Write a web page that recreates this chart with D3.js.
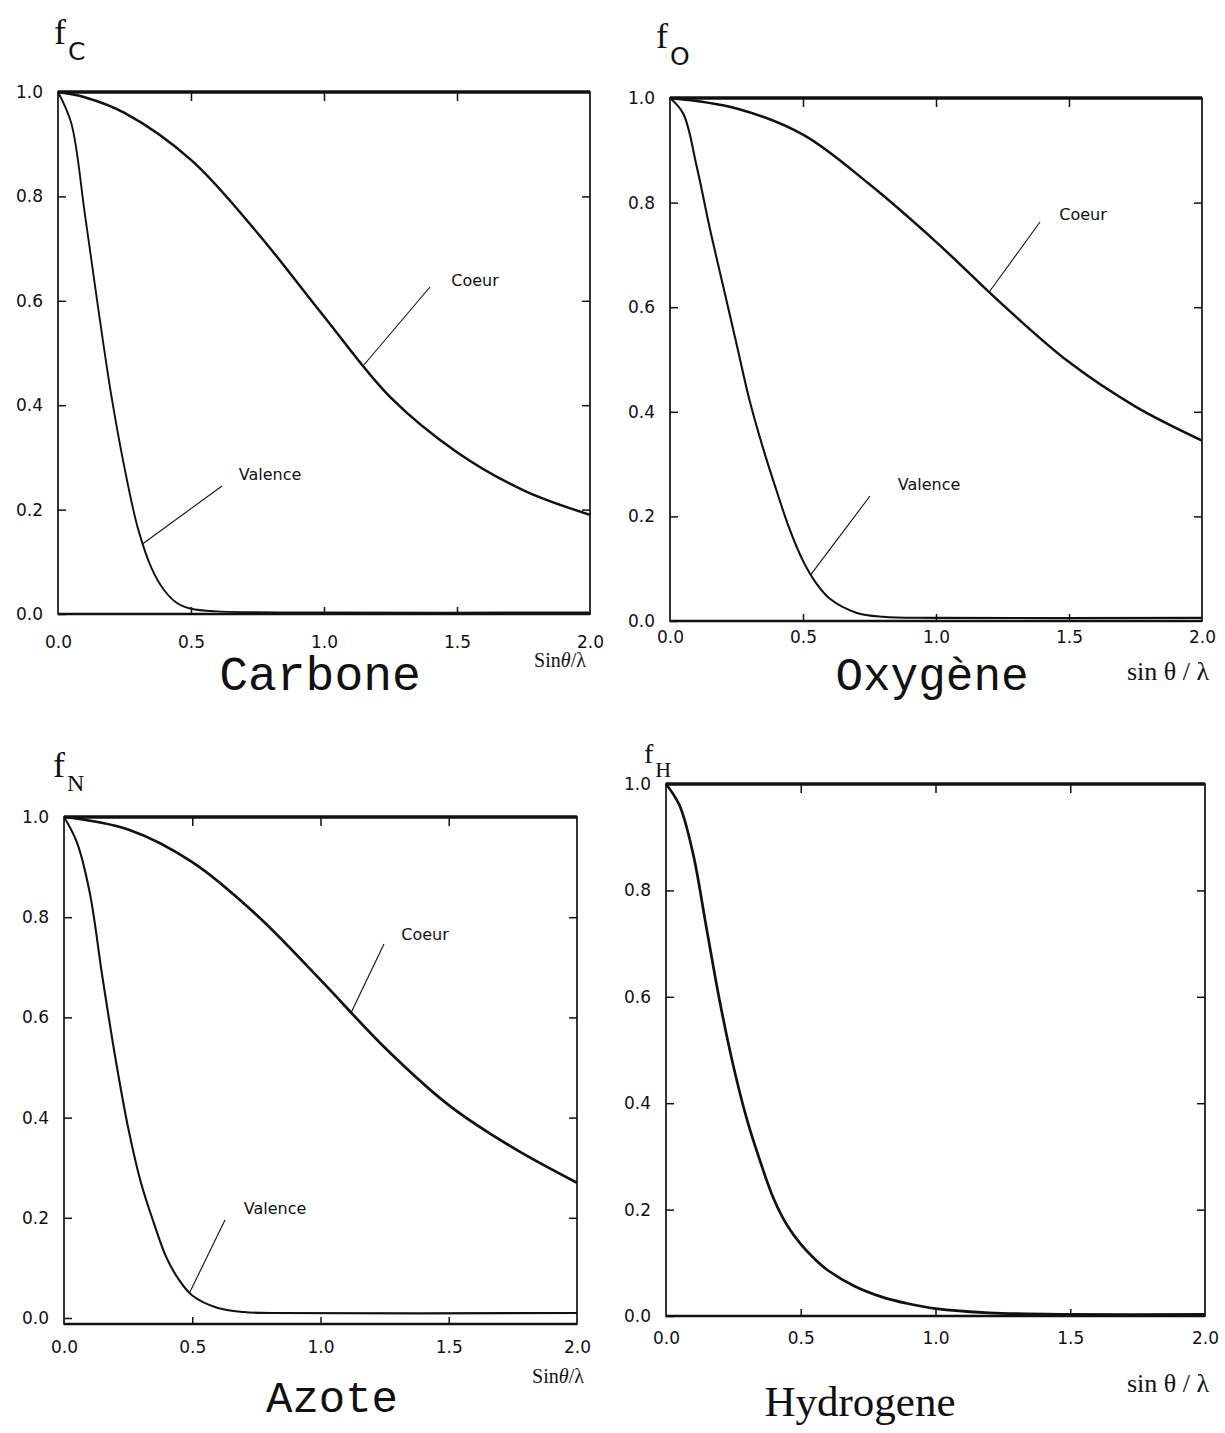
<!DOCTYPE html>
<html lang="fr">
<head>
<meta charset="UTF-8">
<title>Facteurs de diffusion</title>
<script src="https://d3js.org/d3.v7.min.js"></script>
<style>
    body { margin: 0; background: #fff; }
    svg { display: block; }
    .tick text { font-family: "DejaVu Sans", sans-serif; font-size: 17px; fill: #111; }
    .tick line { stroke: #111; stroke-width: 1.5; }
    .note { font-family: "DejaVu Sans", sans-serif; font-size: 16px; fill: #111; }
</style>
</head>
<body>
<svg id="chart" width="1225" height="1433"></svg>
<script>
    // values (sinθ/λ, f)
    const xTicks = [0, 0.5, 1.0, 1.5, 2.0];
    const yTicks = [0, 0.2, 0.4, 0.6, 0.8, 1.0];

    const carboneCoeur = [[0,1],[0.1,0.99],[0.25,0.96],[0.5,0.87],[0.75,0.73],[1.0,0.57],[1.25,0.415],[1.5,0.31],[1.75,0.237],[2.0,0.19]];
    const carboneValence = [[0,1],[0.05,0.94],[0.1,0.77],[0.15,0.59],[0.2,0.42],[0.25,0.28],[0.3,0.165],[0.35,0.09],[0.4,0.045],[0.45,0.02],[0.5,0.01],[0.6,0.005],[1.0,0.003],[2.0,0.003]];

    const oxygeneCoeur = [[0,1],[0.25,0.98],[0.5,0.93],[0.75,0.835],[1.0,0.725],[1.25,0.605],[1.5,0.495],[1.75,0.41],[2.0,0.345]];
    const oxygeneValence = [[0,1],[0.05,0.97],[0.1,0.87],[0.15,0.75],[0.2,0.64],[0.25,0.53],[0.3,0.42],[0.35,0.33],[0.4,0.25],[0.45,0.175],[0.5,0.115],[0.55,0.072],[0.6,0.043],[0.7,0.016],[0.8,0.008],[1.0,0.006],[2.0,0.006]];

    const azoteCoeur = [[0,1],[0.25,0.975],[0.5,0.91],[0.75,0.805],[1.0,0.675],[1.25,0.54],[1.5,0.425],[1.75,0.34],[2.0,0.27]];
    const azoteValence = [[0,1],[0.05,0.95],[0.1,0.85],[0.15,0.68],[0.2,0.52],[0.25,0.38],[0.3,0.27],[0.35,0.19],[0.4,0.12],[0.45,0.075],[0.5,0.045],[0.6,0.02],[0.7,0.012],[0.8,0.01],[2.0,0.01]];

    const hydrogene = [[0,1],[0.05,0.96],[0.1,0.87],[0.15,0.73],[0.2,0.59],[0.25,0.47],[0.3,0.37],[0.35,0.29],[0.4,0.22],[0.45,0.17],[0.5,0.135],[0.55,0.108],[0.6,0.086],[0.7,0.056],[0.8,0.036],[0.9,0.023],[1.0,0.014],[1.2,0.006],[1.5,0.003],[2.0,0.003]];

    const svg = d3.select("#chart");

    // panel layout and labels
    const panels = [
        { x0: 58, x1: 590, y0: 92, y1: 614, yLow: 0, pad: 22,
          sub: "C", fx: 54, fy: 44, fSize: 36, subSize: 25, subDy: 16, subFont: "DejaVu Sans",
          title: "Carbone", tx: 320, ty: 690, tFont: "Liberation Mono", tSize: 48,
          xl: ["Sin", "θ", "/λ"], xlx: 560, xly: 667, xlSize: 20,
          series: [
            { data: carboneCoeur, w: 2.5, name: "Coeur", at: 1.15, lx: 430, ly: 287, tx: 475, ty: 286 },
            { data: carboneValence, w: 1.9, name: "Valence", at: 0.32, lx: 222, ly: 486, tx: 270, ty: 480 }
          ] },
        { x0: 670, x1: 1202, y0: 98, y1: 621, yLow: 0, pad: 10,
          sub: "O", fx: 656, fy: 48, fSize: 36, subSize: 25, subDy: 17, subFont: "DejaVu Sans",
          title: "Oxygène", tx: 932, ty: 690, tFont: "Liberation Mono", tSize: 46,
          xl: ["sin θ / λ"], xlx: 1168, xly: 680, xlSize: 26,
          series: [
            { data: oxygeneCoeur, w: 2.5, name: "Coeur", at: 1.2, lx: 1040, ly: 222, tx: 1083, ty: 220 },
            { data: oxygeneValence, w: 2.1, name: "Valence", at: 0.53, lx: 870, ly: 496, tx: 929, ty: 490 }
          ] },
        { x0: 64, x1: 577, y0: 817, y1: 1318, yLow: -0.012, pad: 17,
          sub: "N", fx: 53, fy: 777, fSize: 36, subSize: 24, subDy: 14, subFont: "Liberation Serif",
          title: "Azote", tx: 332, ty: 1412, tFont: "Liberation Mono", tSize: 44,
          xl: ["Sin", "θ", "/λ"], xlx: 558, xly: 1383, xlSize: 20,
          series: [
            { data: azoteCoeur, w: 2.7, name: "Coeur", at: 1.12, lx: 384, ly: 944, tx: 425, ty: 940 },
            { data: azoteValence, w: 2.1, name: "Valence", at: 0.49, lx: 225, ly: 1220, tx: 275, ty: 1214 }
          ] },
        { x0: 666, x1: 1205, y0: 784, y1: 1316, yLow: 0, pad: 16,
          sub: "H", fx: 644, fy: 763, fSize: 28, subSize: 22, subDy: 14, subFont: "Liberation Serif",
          title: "Hydrogene", tx: 860, ty: 1416, tFont: "Liberation Serif", tSize: 43,
          xl: ["sin θ / λ"], xlx: 1168, xly: 1392, xlSize: 26,
          series: [
            { data: hydrogene, w: 2.7 }
          ] }
    ];

    panels.forEach(p => {
        const x = d3.scaleLinear().domain([0, 2]).range([p.x0, p.x1]);
        const y = d3.scaleLinear().domain([0, 1]).range([p.y1, p.y0]);
        const g = svg.append("g");
        const yb = y(p.yLow);

        // inward ticks on all four sides
        g.append("g").attr("transform", `translate(${p.x0},0)`)
            .call(d3.axisLeft(y).tickValues(yTicks.slice(0, 5)).tickFormat(d3.format(".1f")).tickSizeInner(-8).tickSizeOuter(0).tickPadding(15))
            .call(a => a.select(".domain").remove());
        g.append("g").attr("transform", `translate(${p.x0},0)`)
            .call(d3.axisLeft(y).tickValues([1.0]).tickFormat(d3.format(".1f")).tickSize(0).tickPadding(15))
            .call(a => a.select(".domain").remove());
        g.append("g").attr("transform", `translate(${p.x1},0)`)
            .call(d3.axisRight(y).tickValues(yTicks.slice(1, 5)).tickFormat("").tickSizeInner(-8).tickSizeOuter(0))
            .call(a => a.select(".domain").remove());
        g.append("g").attr("transform", `translate(0,${yb})`)
            .call(d3.axisBottom(x).tickValues(xTicks).tickFormat(d3.format(".1f")).tickSizeInner(0).tickSizeOuter(0).tickPadding(p.pad))
            .call(a => a.select(".domain").remove());
        g.append("g").attr("transform", `translate(0,${yb})`)
            .call(d3.axisBottom(x).tickValues(xTicks.slice(1, 4)).tickFormat("").tickSizeInner(-7).tickSizeOuter(0))
            .call(a => a.select(".domain").remove());
        g.append("g").attr("transform", `translate(0,${p.y0})`)
            .call(d3.axisTop(x).tickValues(xTicks.slice(1, 4)).tickFormat("").tickSizeInner(-9).tickSizeOuter(0))
            .call(a => a.select(".domain").remove());

        // frame
        g.append("rect").attr("x", p.x0).attr("y", p.y0)
            .attr("width", p.x1 - p.x0).attr("height", yb - p.y0)
            .attr("fill", "none").attr("stroke", "#111").attr("stroke-width", 1.7);
        g.append("line").attr("x1", p.x0).attr("x2", p.x1).attr("y1", p.y0).attr("y2", p.y0)
            .attr("stroke", "#111").attr("stroke-width", 3.3);
        g.append("line").attr("x1", p.x0).attr("x2", p.x1).attr("y1", yb).attr("y2", yb)
            .attr("stroke", "#111").attr("stroke-width", 2.7);

        const line = d3.line().x(d => x(d[0])).y(d => y(d[1])).curve(d3.curveCatmullRom.alpha(0.5));
        p.series.forEach(s => {
            g.append("path").datum(s.data).attr("d", line)
                .attr("fill", "none").attr("stroke", "#111").attr("stroke-width", s.w)
                .attr("stroke-linejoin", "round");
            if (s.name) {
                const pts = s.data;
                const i = d3.bisector(d => d[0]).left(pts, s.at);
                const a = pts[i - 1], b = pts[i];
                const v = a[1] + (b[1] - a[1]) * (s.at - a[0]) / (b[0] - a[0]);
                g.append("line").attr("x1", s.lx).attr("y1", s.ly).attr("x2", x(s.at)).attr("y2", y(v))
                    .attr("stroke", "#111").attr("stroke-width", 1.1);
                g.append("text").attr("class", "note").attr("x", s.tx).attr("y", s.ty)
                    .attr("text-anchor", "middle").text(s.name);
            }
        });

        // y label f with subscript
        const f = g.append("text").attr("x", p.fx).attr("y", p.fy)
            .attr("font-family", "Liberation Serif").attr("font-size", p.fSize).attr("fill", "#111");
        f.append("tspan").text("f");
        f.append("tspan").attr("dx", 2).attr("dy", p.subDy).attr("font-size", p.subSize)
            .attr("font-family", p.subFont).text(p.sub);

        // x label and panel title
        const xl = g.append("text").attr("x", p.xlx).attr("y", p.xly).attr("text-anchor", "middle")
            .attr("font-family", "Liberation Serif").attr("font-size", p.xlSize).attr("fill", "#111");
        p.xl.forEach(t => xl.append("tspan").attr("font-style", t === "θ" ? "italic" : "normal").text(t));
        g.append("text").attr("x", p.tx).attr("y", p.ty).attr("text-anchor", "middle")
            .attr("font-family", p.tFont).attr("font-size", p.tSize).attr("fill", "#111").text(p.title);
    });
</script>
</body>
</html>
